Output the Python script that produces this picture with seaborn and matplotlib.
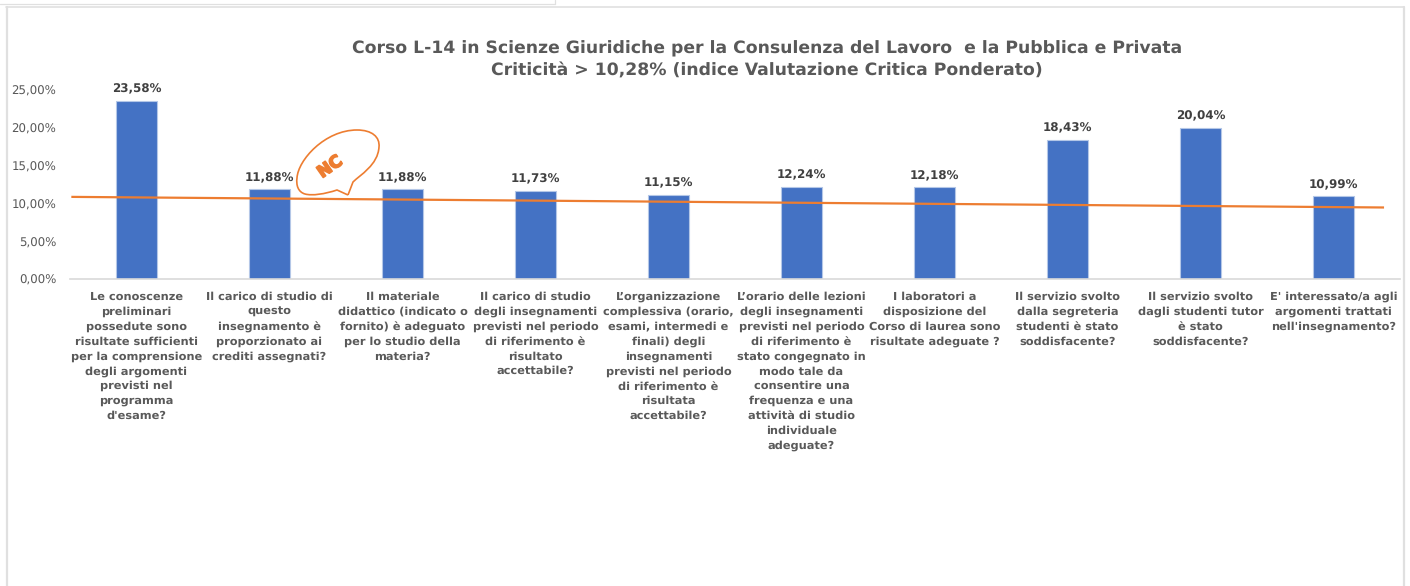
import numpy as np
import pandas as pd
import matplotlib
matplotlib.use("Agg")
import matplotlib.pyplot as plt
import seaborn as sns
import matplotlib.patheffects as pe
from matplotlib.lines import Line2D
from matplotlib.patches import PathPatch
from matplotlib.path import Path
from matplotlib.transforms import IdentityTransform

title_text = ("Corso L-14 in Scienze Giuridiche per la Consulenza del Lavoro  e la Pubblica e Privata\n"
              "Criticità > 10,28% (indice Valutazione Critica Ponderato)")
categories = [
    "Le conoscenze\npreliminari\npossedute sono\nrisultate sufficienti\nper la comprensione\ndegli argomenti\nprevisti nel\nprogramma\nd'esame?",
    "Il carico di studio di\nquesto\ninsegnamento è\nproporzionato ai\ncrediti assegnati?",
    "Il materiale\ndidattico (indicato o\nfornito) è adeguato\nper lo studio della\nmateria?",
    "Il carico di studio\ndegli insegnamenti\nprevisti nel periodo\ndi riferimento è\nrisultato\naccettabile?",
    "L’organizzazione\ncomplessiva (orario,\nesami, intermedi e\nfinali) degli\ninsegnamenti\nprevisti nel periodo\ndi riferimento è\nrisultata\naccettabile?",
    "L’orario delle lezioni\ndegli insegnamenti\nprevisti nel periodo\ndi riferimento è\nstato congegnato in\nmodo tale da\nconsentire una\nfrequenza e una\nattività di studio\nindividuale\nadeguate?",
    "I laboratori a\ndisposizione del\nCorso di laurea sono\nrisultate adeguate ?",
    "Il servizio svolto\ndalla segreteria\nstudenti è stato\nsoddisfacente?",
    "Il servizio svolto\ndagli studenti tutor\nè stato\nsoddisfacente?",
    "E' interessato/a agli\nargomenti trattati\nnell'insegnamento?",
]
values = [23.58, 11.88, 11.88, 11.73, 11.15, 12.24, 12.18, 18.43, 20.04, 10.99]
value_labels = ["23,58%", "11,88%", "11,88%", "11,73%", "11,15%", "12,24%", "12,18%", "18,43%", "20,04%", "10,99%"]
trend_x = [-0.49, 9.38]
trend_y = [10.9, 9.5]
y_ticks = [0, 5, 10, 15, 20, 25]
y_tick_labels = ["0,00%", "5,00%", "10,00%", "15,00%", "20,00%", "25,00%"]

W, H = 1410, 586
BLUE, ORANGE, TXT = "#4472C4", "#ED7D31", "#595959"

sns.set_theme(style="white")
plt.rcParams["font.family"] = ["DejaVu Sans"]
plt.rcParams["text.hinting"] = "no_hinting"
plt.rcParams["text.hinting_factor"] = 8
fig = plt.figure(figsize=(W / 100, H / 100), dpi=100, facecolor="white")

def px(x, y):
    return x / W, 1 - y / H

ax = fig.add_axes([70 / W, 1 - 279.5 / H, 1330 / W, 189.5 / H])
df = pd.DataFrame({"cat": categories, "val": values})
sns.barplot(data=df, x="cat", y="val", color=BLUE, saturation=1, width=0.315, ax=ax, zorder=2)
for b in ax.patches:
    b.set_edgecolor("#B4C7E7")
    b.set_linewidth(0.8)
ax.plot(trend_x, trend_y, color=ORANGE, lw=1.6, zorder=3, solid_capstyle="butt", clip_on=False)

ax.set_xlim(-0.5, 9.5)
ax.set_ylim(0, 25)
ax.set_xlabel("")
ax.set_ylabel("")
ax.set_yticks(y_ticks)
ax.set_yticklabels(y_tick_labels, fontsize=8.5, color=TXT)
ax.set_xticks(range(len(categories)))
ax.set_xticklabels(categories, fontsize=8.2, color=TXT, fontweight="bold", linespacing=1.51, ha="center", va="top")
ax.tick_params(axis="both", length=0)
ax.tick_params(axis="x", pad=8.5)
ax.tick_params(axis="y", pad=10)
for s in ["top", "right", "left"]:
    ax.spines[s].set_visible(False)
ax.spines["bottom"].set_color("#D9D9D9")
ax.spines["bottom"].set_linewidth(1.2)

for i, (v, lab) in enumerate(zip(values, value_labels)):
    ax.annotate(lab, (i, v), xytext=(0, 4.2), textcoords="offset points", ha="center", va="bottom",
                fontsize=8.6, fontweight="bold", color="#404040")

fig.text(*px(767, 60), title_text, ha="center", va="center", fontsize=12.45, fontweight="bold",
         color=TXT, linespacing=1.48)

# chart frame and the edge of the box above it
frame = "#E0E0E0"
for (x0, y0, x1, y1, lw) in [(7, 7, 7, 586, 1.6), (6, 7.3, 1404, 7.3, 1.2), (1403.5, 7, 1403.5, 586, 1.6),
                             (0, 4, 555, 4, 0.9), (555, 0, 555, 4, 0.9)]:
    a, b = px(x0, y0), px(x1, y1)
    fig.add_artist(Line2D([a[0], b[0]], [a[1], b[1]], color=frame, lw=lw))

# speech bubble (figure pixels)
verts = [(348, 195), (337, 190),
         (325, 194), (312, 196), (305, 194),
         (298, 192), (296, 185), (297, 178),
         (298, 160), (325, 130), (357, 130),
         (372, 130), (380, 137), (379, 147),
         (378, 165), (360, 175), (353, 182),
         (348, 195)]
codes = [Path.MOVETO, Path.LINETO] + [Path.CURVE4] * 15 + [Path.LINETO]
fig.add_artist(PathPatch(Path([(x, H - y) for x, y in verts], codes), facecolor="none", edgecolor=ORANGE,
                         lw=1.2, transform=IdentityTransform()))
fig.text(*px(330, 167), "NC", rotation=35, ha="center", va="center", fontsize=12, fontweight="bold",
         color=ORANGE, path_effects=[pe.withStroke(linewidth=1.2, foreground=ORANGE)])

fig.savefig("out.png", dpi=100, facecolor="white")
